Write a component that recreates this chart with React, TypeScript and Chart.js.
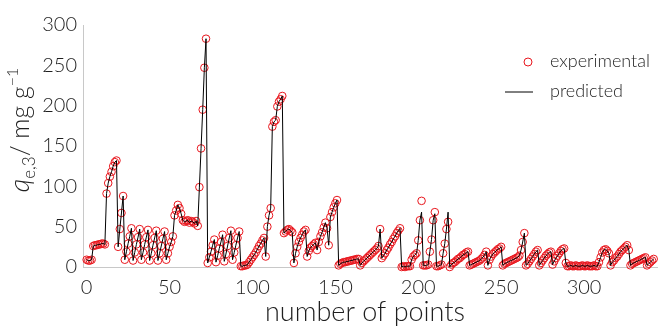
import React, { useEffect, useRef } from 'react';
import { Chart, registerables } from 'chart.js';

Chart.register(...registerables);

// experimental q_e,3 values (mg g^-1), indexed by point number 0..342
const experimental: number[] = [
  9, 8, 8, 9,
  26, 27, 27, 28, 28, 29, 29, 28,
  91, 104, 112, 118, 125, 130, 132,
  25, 47, 67, 88,
  9, 19, 29, 38, 48,
  8, 18, 28, 37, 47,
  9, 18, 28, 37, 46,
  8, 17, 27, 36, 45,
  8, 17, 26, 35, 44,
  9, 17, 25, 31, 38,
  64, 70, 77, 73, 66, 58, 56, 57, 58, 55, 57, 56, 54, 57, 51,
  99, 147, 195, 247, 283,
  5, 12, 19, 27, 34,
  6, 14, 23, 31, 40,
  7, 16, 26, 36, 45,
  9, 18, 27, 36, 44,
  1, 1, 2, 2, 3,
  6, 9, 12, 15, 18, 22, 26, 29, 33,
  36, 13, 50, 64, 73,
  174, 180, 182, 199, 205, 208, 212,
  42, 44, 46, 47, 45, 43,
  5,
  17, 25, 31, 36, 40, 44, 46,
  13, 20, 24, 26, 28, 30, 21, 31, 38, 43, 49, 55, 48, 27, 62, 68, 74, 79, 83, 2,
  4, 5, 6, 6, 7, 7, 8, 8, 9, 9, 10, 10,
  2,
  5, 7, 9, 11, 13, 15, 17, 19, 21, 23, 26,
  47,
  11, 14, 17, 21, 24, 28, 31, 35, 38, 42, 45, 48,
  0, 1, 0, 1, 1, 1,
  9, 13, 15, 17, 33, 58, 82,
  2, 2, 2, 3,
  19, 34, 58, 68,
  1, 1, 2, 3,
  17, 29, 47, 56,
  0,
  3, 5, 6, 8, 10, 11, 13, 15, 16, 18, 19,
  2, 3, 4, 5, 6, 7, 8, 10, 12, 15, 19,
  2,
  9, 13, 16, 18, 20, 22, 23, 25,
  2,
  4, 5, 6, 7, 8, 9, 10, 11, 12, 14,
  21, 31, 42,
  2,
  4, 7, 10, 13, 16, 19, 21,
  2,
  5, 8, 11, 14, 16, 18, 19,
  3, 7, 11, 14, 17, 20, 22, 23,
  5,
  1, 1, 2, 1, 1, 2, 1, 1, 1, 2, 1, 1, 2, 1, 1, 1, 2, 1, 1,
  6, 12, 18, 21, 22, 20, 17,
  2,
  6, 8, 11, 13, 16, 19, 21, 23, 25, 27, 21,
  2,
  4, 5, 6, 7, 8, 9, 10, 11, 12,
  2,
  4, 6, 8, 10,
];

// predicted values where the model line differs from the experimental points
const predictedIndex: number[] = [202, 210, 218];
const predictedValue: number[] = [68, 66, 68];

const xTicks: number[] = [0, 50, 100, 150, 200, 250, 300];
const yTicks: number[] = [0, 50, 100, 150, 200, 250, 300];

const RED = '#e8161d';
const TEXT = '#1f1f1f';
const FONT = 'Lato, "Open Sans", sans-serif';

const annotations = {
  id: 'annotations',
  afterDraw(chart: any) {
    const ctx = chart.ctx as CanvasRenderingContext2D;
    ctx.save();
    ctx.fillStyle = TEXT;

    // x axis title
    ctx.font = `300 27px ${FONT}`;
    ctx.textAlign = 'center';
    ctx.textBaseline = 'middle';
    ctx.fillText('number of points', 365, 312);

    // y axis title (rotated, with sub/superscripts)
    const parts = [
      { t: 'q', f: `italic 300 27px ${FONT}`, dy: 0 },
      { t: 'e,3', f: `300 17px ${FONT}`, dy: 6 },
      { t: '/ mg g', f: `300 25px ${FONT}`, dy: 0 },
      { t: '\u22121', f: `300 16px ${FONT}`, dy: -11 },
    ];
    let total = 0;
    for (const p of parts) {
      ctx.font = p.f;
      total += ctx.measureText(p.t).width;
    }
    ctx.translate(29, 130);
    ctx.rotate(-Math.PI / 2);
    ctx.textAlign = 'left';
    ctx.textBaseline = 'alphabetic';
    let x = -total / 2;
    for (const p of parts) {
      ctx.font = p.f;
      ctx.fillText(p.t, x, p.dy);
      x += ctx.measureText(p.t).width;
    }
    ctx.setTransform(1, 0, 0, 1, 0, 0);

    // legend
    ctx.strokeStyle = RED;
    ctx.lineWidth = 1;
    ctx.beginPath();
    ctx.arc(528, 62, 4, 0, Math.PI * 2);
    ctx.stroke();
    ctx.strokeStyle = '#000';
    ctx.beginPath();
    ctx.moveTo(505, 92);
    ctx.lineTo(533, 92);
    ctx.stroke();
    ctx.font = `300 18px ${FONT}`;
    ctx.fillStyle = TEXT;
    ctx.textAlign = 'left';
    ctx.textBaseline = 'middle';
    ctx.fillText('experimental', 550, 61);
    ctx.fillText('predicted', 550, 91);
    ctx.restore();
  },
};

export default function App() {
  const ref = useRef<HTMLCanvasElement | null>(null);

  useEffect(() => {
    document.body.style.margin = '0';
    const canvas = ref.current;
    if (!canvas) return;

    const predicted = experimental.slice();
    predictedIndex.forEach((idx, k) => {
      predicted[idx] = predictedValue[k];
    });

    const expPts = experimental.map((v, i) => ({ x: i, y: v }));
    const predPts = predicted.map((v, i) => ({ x: i, y: v }));

    const chart = new Chart(canvas, {
      type: 'line',
      data: {
        datasets: [
          {
            label: 'predicted',
            data: predPts,
            borderColor: '#000000',
            borderWidth: 1,
            pointRadius: 0,
            tension: 0,
            fill: false,
            clip: false as any,
          },
          {
            label: 'experimental',
            data: expPts,
            showLine: false,
            pointStyle: 'circle',
            pointRadius: 3.8,
            pointBorderWidth: 1,
            pointBorderColor: RED,
            pointBackgroundColor: 'rgba(0,0,0,0)',
            borderColor: RED,
            clip: false as any,
          },
        ],
      },
      options: {
        responsive: false,
        animation: false,
        devicePixelRatio: 1,
        layout: { padding: { top: 25, right: 2, left: 0, bottom: 0 } },
        plugins: {
          legend: { display: false },
          tooltip: { enabled: false },
        },
        scales: {
          x: {
            type: 'linear',
            min: -2.2,
            max: 344,
            afterFit: (s: any) => {
              s.height = 62;
            },
            afterBuildTicks: (s: any) => {
              s.ticks = xTicks.map((v) => ({ value: v }));
            },
            grid: { display: false, drawTicks: false },
            border: { display: true, color: '#c8c8c8', width: 1 },
            ticks: {
              includeBounds: false,
              padding: 9,
              color: TEXT,
              font: { family: FONT, size: 20, weight: '300' as any },
              maxRotation: 0,
            },
          },
          y: {
            type: 'linear',
            min: 0,
            max: 300,
            afterFit: (s: any) => {
              s.width = 83;
            },
            afterBuildTicks: (s: any) => {
              s.ticks = yTicks.map((v) => ({ value: v }));
            },
            grid: { display: false, drawTicks: false },
            border: { display: true, color: '#c8c8c8', width: 1 },
            ticks: {
              padding: 6,
              color: TEXT,
              font: { family: FONT, size: 20, weight: '300' as any },
            },
          },
        },
      },
      plugins: [annotations],
    });

    return () => chart.destroy();
  }, []);

  return (
    <div style={{ position: 'absolute', left: 0, top: 0, width: 662, height: 329 }}>
      <canvas ref={ref} width={662} height={329} style={{ display: 'block', width: 662, height: 329 }} />
    </div>
  );
}
